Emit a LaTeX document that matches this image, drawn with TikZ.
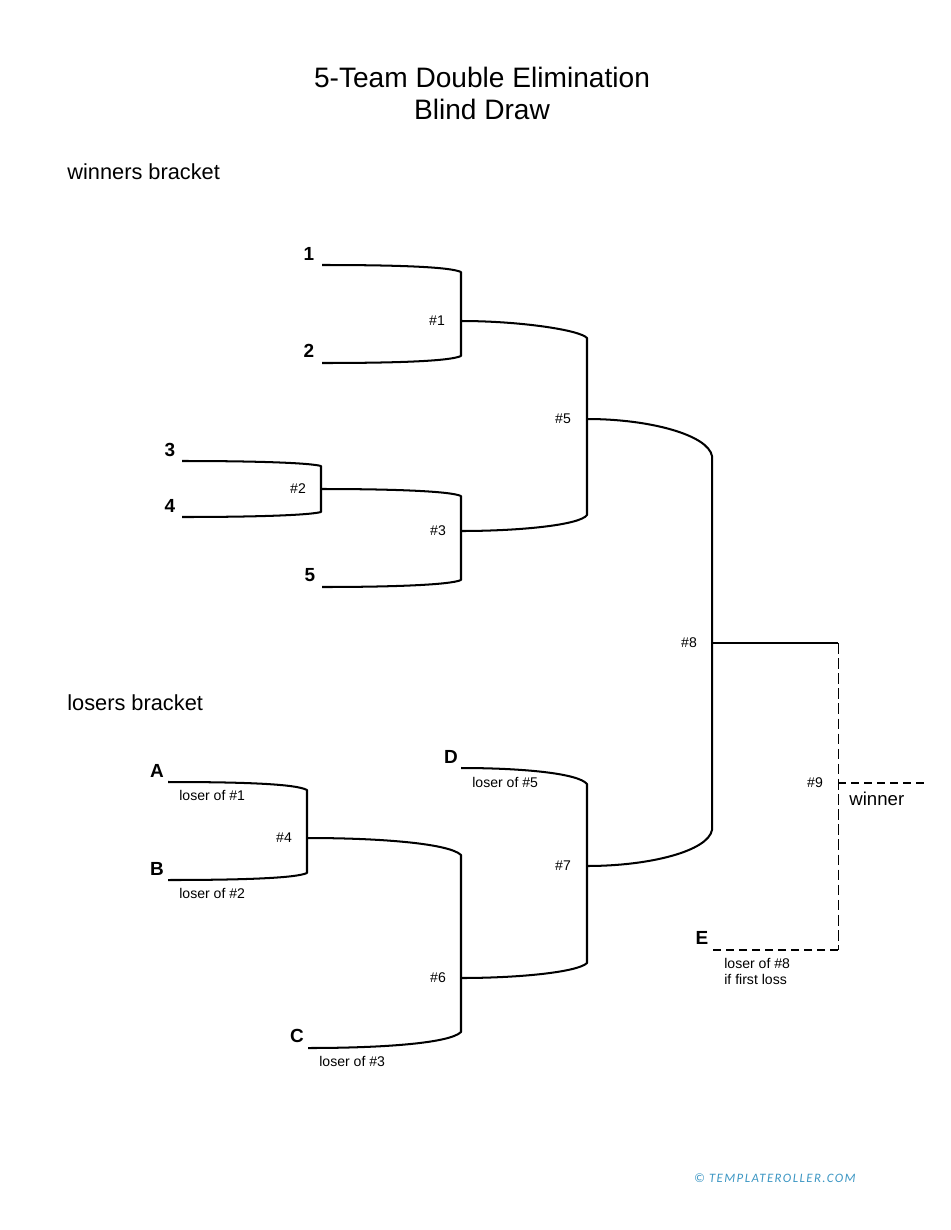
\documentclass[tikz,border=0pt]{standalone}
\usepackage{fontspec}
\setmainfont{Liberation Sans}
\newfontfamily\stampfont{Carlito}[LetterSpace=11]
\definecolor{stampblue}{RGB}{60,150,195}
\tikzset{
  bracket/.style={line width=1.15pt, black, line join=round},
  open line/.style={line width=1.15pt, dash pattern=on 4.4pt off 3pt},
  open side/.style={line width=0.55pt, dash pattern=on 6pt off 2.6pt},
  seed/.style={font=\fontsize{10.8}{12}\selectfont\bfseries, inner sep=0pt},
  game/.style={font=\fontsize{8}{9}\selectfont, inner sep=0pt},
  note/.style={font=\fontsize{8}{9.2}\selectfont, inner sep=0pt, anchor=north west, align=left},
  heading/.style={font=\fontsize{12.4}{14}\selectfont, inner sep=0pt}
}
\begin{document}
\begin{tikzpicture}[x=0.02cm, y=-0.02cm]
\useasboundingbox (0,0) rectangle (950,1230);
%% Title and the two headings
    \node (title) [font=\fontsize{16}{18.2}\selectfont, align=center, inner sep=0pt] at (482,93) {5-Team Double Elimination\\Blind Draw};
    \node (winners) [heading, anchor=west] at (67,172) {winners bracket};
    \node (losers) [heading, anchor=west] at (67,703) {losers bracket};
%% Free ends of the lines, next to the letters and numbers
    \coordinate (t1) at (322,265);
    \coordinate (t2) at (322,363);
    \coordinate (t3) at (182,461);
    \coordinate (t4) at (182,517);
    \coordinate (t5) at (322,587);
    \coordinate (tA) at (168,782);
    \coordinate (tB) at (168,880);
    \coordinate (tC) at (308,1048);
    \coordinate (tD) at (461,768);
    \coordinate (tE) at (713,950);
    \coordinate (tW) at (925,783);
%% Where a game sends its line on to the next one
    \coordinate (g1) at (461,321);
    \coordinate (g2) at (321,489);
    \coordinate (g3) at (461,531);
    \coordinate (g4) at (307,838);
    \coordinate (g5) at (587,419);
    \coordinate (g6) at (461,978);
    \coordinate (g7) at (587,866);
    \coordinate (g8) at (712,643);
    \coordinate (g9) at (838,783);
    \coordinate (g9top) at (838,643);
    \coordinate (g9low) at (838,950);
%% Winners bracket
    \draw[bracket] (t1) .. controls (400,265) and (450,267) .. (461,272) -- (461,356) .. controls (450,361) and (400,363) .. (t2);
    \draw[bracket] (t3) .. controls (260,461) and (310,463) .. (321,466) -- (321,512) .. controls (310,515) and (260,517) .. (t4);
    \draw[bracket] (g2) .. controls (390,489) and (450,491) .. (461,496) -- (461,580) .. controls (450,585) and (390,587) .. (t5);
    \draw[bracket] (g1) .. controls (520,321) and (580,330) .. (587,338) -- (587,515) .. controls (580,525) and (520,531) .. (g3);
%% Losers bracket
    \draw[bracket] (tA) .. controls (245,782) and (296,784) .. (307,790) -- (307,873) .. controls (296,878) and (245,880) .. (tB);
    \draw[bracket] (g4) .. controls (385,838) and (450,844) .. (461,855) -- (461,1032) .. controls (450,1043) and (385,1048) .. (tC);
    \draw[bracket] (tD) .. controls (520,768) and (578,773) .. (587,784) -- (587,963) .. controls (578,972) and (520,978) .. (g6);
%% Final games
    \draw[bracket] (g5) .. controls (650,419) and (708,435) .. (712,456) -- (712,830) .. controls (708,851) and (650,866) .. (g7);
    \draw[bracket] (g8) -- (g9top);
    \draw[open side] (g9top) -- (g9low);
    \draw[open line] (g9low) -- (tE);
    \draw[open line] (g9) -- (tW);
%% Letters and numbers
    \node[seed] (s1) at (309,254) {1};
    \node[seed] (s2) at (309,351) {2};
    \node[seed] (s3) at (170,450) {3};
    \node[seed] (s4) at (170,506) {4};
    \node[seed] (s5) at (310,575) {5};
    \node[seed] (sA) at (157,771) {A};
    \node[seed] (sB) at (157,869) {B};
    \node[seed] (sC) at (297,1036) {C};
    \node[seed] (sD) at (451,757) {D};
    \node[seed] (sE) at (702,938) {E};
%% Game numbers
    \node[game] (n1) at (437,321) {\#1};
    \node[game] (n2) at (298,489) {\#2};
    \node[game] (n3) at (438,531) {\#3};
    \node[game] (n4) at (284,838) {\#4};
    \node[game] (n5) at (563,419) {\#5};
    \node[game] (n6) at (438,978) {\#6};
    \node[game] (n7) at (563,866) {\#7};
    \node[game] (n8) at (689,643) {\#8};
    \node[game] (n9) at (815,783) {\#9};
%% Small notes under the lines
    \node[note] (lA) at (179,790) {loser of \#1};
    \node[note] (lB) at (179,888) {loser of \#2};
    \node[note] (lC) at (319,1056) {loser of \#3};
    \node[note] (lD) at (472,777) {loser of \#5};
    \node[note] (lE) at (724,958) {loser of \#8\\if first loss};
    \node[font=\fontsize{10.6}{13}\selectfont, inner sep=0pt, anchor=west] (champ) at (849,799) {winner};
    \node[anchor=east, inner sep=0pt, text=stampblue, font=\stampfont\itshape\fontsize{7.3}{8}\selectfont] (stamp) at (856,1178) {© TEMPLATEROLLER.COM};
\end{tikzpicture}
\end{document}
